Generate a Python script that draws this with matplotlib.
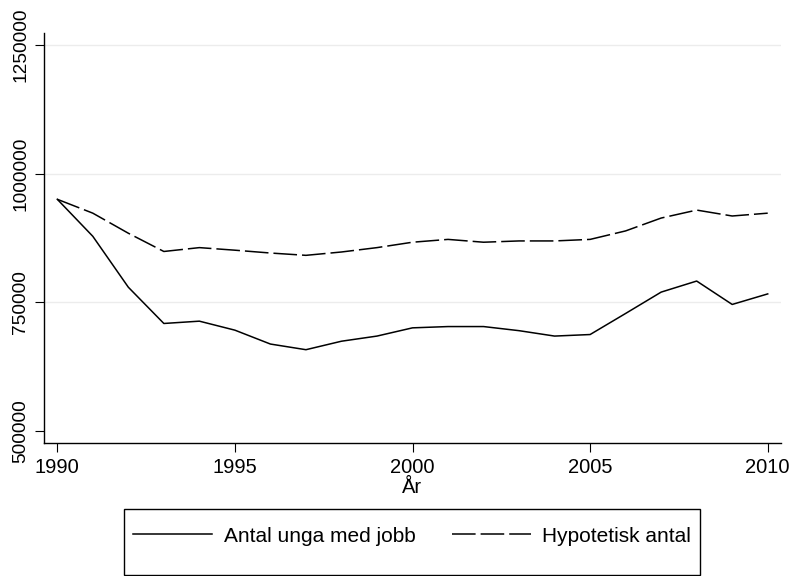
import matplotlib
matplotlib.use("Agg")
import matplotlib.pyplot as plt
from matplotlib.patches import Rectangle

plt.rcParams['font.family'] = ['Liberation Sans', 'DejaVu Sans']
plt.rcParams['lines.scale_dashes'] = False

years = list(range(1990, 2011))
antal_unga = [950000, 878000, 779000, 708500, 713000, 695500, 668500, 657500,
              674000, 684000, 700000, 702500, 702500, 694500, 684000, 687000,
              728000, 769500, 791000, 745500, 766000]
hypotetisk = [950000, 923000, 884000, 848500, 856000, 851000, 845500, 841000,
              847500, 856000, 866500, 872000, 866500, 869000, 869000, 872000,
              888500, 913500, 929000, 917500, 923000]
yticks = [500000, 750000, 1000000, 1250000]
xticks = [1990, 1995, 2000, 2005, 2010]
labels = ["Antal unga med jobb", "Hypotetisk antal"]

W, H = 802, 576
fig = plt.figure(figsize=(W / 100, H / 100), dpi=100)
ax = fig.add_axes([44 / W, 1 - 443 / H, (781 - 44) / W, (443 - 33) / H])

for y in yticks[1:]:
    ax.axhline(y, color='#ececec', lw=1.0, zorder=0)

l1, = ax.plot(years, antal_unga, color='black', lw=1.1, label=labels[0])
l2, = ax.plot(years, hypotetisk, color='black', lw=1.1, label=labels[1],
              linestyle=(0, (17, 3.6)))

ax.set_xlim(1989.626, 2010.374)
ax.set_ylim(476083, 1273334)
ax.set_xticks(xticks)
ax.set_yticks(yticks)
ax.set_xticklabels([str(x) for x in xticks], fontsize=14.5)
ax.set_yticklabels([str(y) for y in yticks], fontsize=13.8, rotation=90, va='center')
ax.tick_params(axis='both', direction='out', length=6.5, width=0.8, color='black', pad=4)
for s in ['top', 'right']:
    ax.spines[s].set_visible(False)
for s in ['left', 'bottom']:
    ax.spines[s].set_linewidth(1.0)
ax.set_xlabel('År', fontsize=14.5, labelpad=1)

# legend box
fig.patches.append(Rectangle((124 / W, 1 - 575 / H), (700 - 124) / W, (575 - 509) / H,
                             transform=fig.transFigure, fill=False, edgecolor='black', lw=1.0))
leg = fig.legend(handles=[l1, l2], labels=labels, ncol=2, frameon=False, fontsize=15,
                 loc='center left', bbox_to_anchor=(133 / W, 1 - 536 / H),
                 handlelength=3.8, handletextpad=0.55, columnspacing=1.75, borderpad=0.0,
                 borderaxespad=0.0)

fig.savefig("out.png", dpi=100, facecolor='white')
